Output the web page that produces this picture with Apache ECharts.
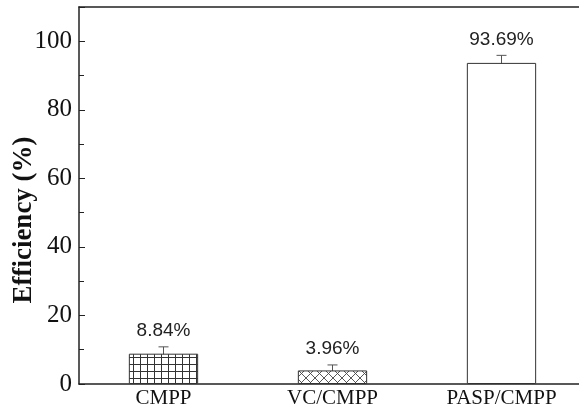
<!DOCTYPE html>
<html><head><meta charset="utf-8">
<script src="https://cdn.jsdelivr.net/npm/echarts@6/dist/echarts.min.js"></script>
<style>html,body{margin:0;padding:0;background:#fff}#c{width:579px;height:411px}</style>
</head><body><div id="c"></div>
<script>
var categories = ['CMPP', 'VC/CMPP', 'PASP/CMPP'];
var values = [8.84, 3.96, 93.69];
var errors = [2.0, 1.6, 2.2];
var valueLabels = ['8.84%', '3.96%', '93.69%'];
var yTicks = [0, 20, 40, 60, 80, 100];
var yTitle = 'Efficiency (%)';

var SERIF = "'Liberation Serif', 'Times New Roman', serif";
var SANS = "'Liberation Sans', Arial, sans-serif";

function gridPattern() {
  var c = document.createElement('canvas'); c.width = 7; c.height = 7;
  var g = c.getContext('2d'); g.fillStyle = '#fff'; g.fillRect(0,0,7,7);
  g.strokeStyle = '#333'; g.lineWidth = 1;
  g.beginPath(); g.moveTo(0.5,0); g.lineTo(0.5,7); g.moveTo(0,0.5); g.lineTo(7,0.5); g.stroke();
  return c;
}
function crossPattern() {
  var s = 9; var c = document.createElement('canvas'); c.width = s; c.height = s;
  var g = c.getContext('2d'); g.fillStyle = '#fff'; g.fillRect(0,0,s,s);
  g.strokeStyle = '#444'; g.lineWidth = 0.9;
  g.beginPath(); g.moveTo(0,0); g.lineTo(s,s); g.moveTo(s,0); g.lineTo(0,s); g.stroke();
  return c;
}
var fills = [
  {image: gridPattern(), repeat: 'repeat'},
  {image: crossPattern(), repeat: 'repeat'},
  '#ffffff'
];

var chart = echarts.init(document.getElementById('c'));
chart.setOption({
  animation: false,
  grid: {left: 79, right: -7, top: 7, bottom: 27, containLabel: false, outerBoundsMode: 'none', show: false},
  graphic: [{
    type: 'text', x: 24, y: 220, rotation: Math.PI / 2,
    style: {text: yTitle, align: 'center', verticalAlign: 'middle', fontFamily: SERIF, fontWeight: 'bold', fontSize: 27, fill: '#111'}
  }],
  xAxis: [{
    type: 'category', data: categories,
    axisLine: {lineStyle: {color: '#222', width: 1.5}},
    axisTick: {show: false},
    axisLabel: {color: '#111', fontFamily: SERIF, fontSize: 21, margin: 4}
  }, {
    type: 'category', data: categories, position: 'top',
    axisLine: {show: true, lineStyle: {color: '#222', width: 1.5}},
    axisTick: {show: false}, axisLabel: {show: false}
  }],
  yAxis: {
    type: 'value', min: 0, max: 110, interval: 20,
    axisLine: {show: true, lineStyle: {color: '#222', width: 1.5}},
    axisTick: {show: true, inside: true, length: 6, lineStyle: {color: '#222'}},
    minorTick: {show: true, splitNumber: 2, length: 5, lineStyle: {color: '#222'}},
    splitLine: {show: false},
    axisLabel: {color: '#111', fontFamily: SERIF, fontSize: 25, margin: 7,
      formatter: function (v) { return yTicks.indexOf(v) >= 0 ? String(v) : ''; }}
  },
  series: [{
    type: 'bar', barWidth: '41%',
    data: values.map(function (v, i) { return {value: v, itemStyle: {color: fills[i]}}; }),
    itemStyle: {borderColor: '#333', borderWidth: 1}
  }, {
    type: 'custom',
    data: values.map(function (v, i) { return [i, v, errors[i]]; }),
    renderItem: function (params, api) {
      var i = api.value(0), v = api.value(1), e = api.value(2);
      var hi = api.coord([i, v + e]), lo = api.coord([i, v - e]);
      var w = 5;
      return {type: 'group', children: [
        {type: 'line', shape: {x1: hi[0], y1: hi[1], x2: hi[0], y2: lo[1]}, style: {stroke: '#555', lineWidth: 1}},
        {type: 'line', shape: {x1: hi[0]-w, y1: hi[1], x2: hi[0]+w, y2: hi[1]}, style: {stroke: '#555', lineWidth: 1}},
        {type: 'line', shape: {x1: lo[0]-w, y1: lo[1], x2: lo[0]+w, y2: lo[1]}, style: {stroke: '#555', lineWidth: 1}},
        {type: 'text', style: {text: valueLabels[params.dataIndex], x: hi[0], y: hi[1] - 16, align: 'center', verticalAlign: 'middle',
          fontFamily: SANS, fontSize: 19, fill: '#222'}}
      ]};
    }
  }]
});
</script></body></html>
